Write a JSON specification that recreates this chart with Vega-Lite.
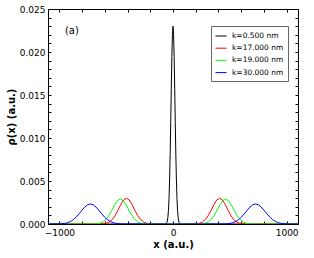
{
  "$schema": "https://vega.github.io/schema/vega-lite/v6.json",
  "autosize": {"type": "none"},
  "width": 250,
  "height": 215,
  "padding": {"left": 48, "top": 9, "right": 16, "bottom": 34},
  "config": {
    "font": "DejaVu Sans",
    "view": {"stroke": "black", "strokeWidth": 1},
    "axis": {"grid": false, "domainColor": "black", "tickColor": "black", "labelColor": "black", "titleColor": "black", "labelFontSize": 9, "titleFontSize": 10, "titleFontWeight": "bold", "labelFont": "DejaVu Sans", "titleFont": "DejaVu Sans"}
  },
  "layer": [
    {
      "data": {"values": [
    {"k": "k=0.500 nm", "x": -1100, "y": 0},
    {"k": "k=0.500 nm", "x": -70, "y": 0},
    {"k": "k=0.500 nm", "x": -60, "y": 0.00006},
    {"k": "k=0.500 nm", "x": -55, "y": 0.00015},
    {"k": "k=0.500 nm", "x": -50, "y": 0.00035},
    {"k": "k=0.500 nm", "x": -45, "y": 0.00078},
    {"k": "k=0.500 nm", "x": -40, "y": 0.00159},
    {"k": "k=0.500 nm", "x": -35, "y": 0.00297},
    {"k": "k=0.500 nm", "x": -30, "y": 0.00511},
    {"k": "k=0.500 nm", "x": -25, "y": 0.0081},
    {"k": "k=0.500 nm", "x": -20, "y": 0.01179},
    {"k": "k=0.500 nm", "x": -15, "y": 0.01579},
    {"k": "k=0.500 nm", "x": -10, "y": 0.01946},
    {"k": "k=0.500 nm", "x": -5, "y": 0.02206},
    {"k": "k=0.500 nm", "x": 0, "y": 0.0230},
    {"k": "k=0.500 nm", "x": 5, "y": 0.02206},
    {"k": "k=0.500 nm", "x": 10, "y": 0.01946},
    {"k": "k=0.500 nm", "x": 15, "y": 0.01579},
    {"k": "k=0.500 nm", "x": 20, "y": 0.01179},
    {"k": "k=0.500 nm", "x": 25, "y": 0.0081},
    {"k": "k=0.500 nm", "x": 30, "y": 0.00511},
    {"k": "k=0.500 nm", "x": 35, "y": 0.00297},
    {"k": "k=0.500 nm", "x": 40, "y": 0.00159},
    {"k": "k=0.500 nm", "x": 45, "y": 0.00078},
    {"k": "k=0.500 nm", "x": 50, "y": 0.00035},
    {"k": "k=0.500 nm", "x": 55, "y": 0.00015},
    {"k": "k=0.500 nm", "x": 60, "y": 0.00006},
    {"k": "k=0.500 nm", "x": 70, "y": 0},
    {"k": "k=0.500 nm", "x": 1100, "y": 0},

    {"k": "k=17.000 nm", "x": -1100, "y": 0},
    {"k": "k=17.000 nm", "x": -660, "y": 0},
    {"k": "k=17.000 nm", "x": -635, "y": 0.00001},
    {"k": "k=17.000 nm", "x": -610, "y": 0.000033},
    {"k": "k=17.000 nm", "x": -585, "y": 0.000094},
    {"k": "k=17.000 nm", "x": -560, "y": 0.000236},
    {"k": "k=17.000 nm", "x": -535, "y": 0.000513},
    {"k": "k=17.000 nm", "x": -510, "y": 0.000968},
    {"k": "k=17.000 nm", "x": -485, "y": 0.001588},
    {"k": "k=17.000 nm", "x": -460, "y": 0.002261},
    {"k": "k=17.000 nm", "x": -435, "y": 0.002795},
    {"k": "k=17.000 nm", "x": -410, "y": 0.0030},
    {"k": "k=17.000 nm", "x": -385, "y": 0.002795},
    {"k": "k=17.000 nm", "x": -360, "y": 0.002261},
    {"k": "k=17.000 nm", "x": -335, "y": 0.001588},
    {"k": "k=17.000 nm", "x": -310, "y": 0.000968},
    {"k": "k=17.000 nm", "x": -285, "y": 0.000513},
    {"k": "k=17.000 nm", "x": -260, "y": 0.000236},
    {"k": "k=17.000 nm", "x": -235, "y": 0.000094},
    {"k": "k=17.000 nm", "x": -210, "y": 0.000033},
    {"k": "k=17.000 nm", "x": -185, "y": 0.00001},
    {"k": "k=17.000 nm", "x": -160, "y": 0},
    {"k": "k=17.000 nm", "x": 160, "y": 0},
    {"k": "k=17.000 nm", "x": 185, "y": 0.00001},
    {"k": "k=17.000 nm", "x": 210, "y": 0.000033},
    {"k": "k=17.000 nm", "x": 235, "y": 0.000094},
    {"k": "k=17.000 nm", "x": 260, "y": 0.000236},
    {"k": "k=17.000 nm", "x": 285, "y": 0.000513},
    {"k": "k=17.000 nm", "x": 310, "y": 0.000968},
    {"k": "k=17.000 nm", "x": 335, "y": 0.001588},
    {"k": "k=17.000 nm", "x": 360, "y": 0.002261},
    {"k": "k=17.000 nm", "x": 385, "y": 0.002795},
    {"k": "k=17.000 nm", "x": 410, "y": 0.0030},
    {"k": "k=17.000 nm", "x": 435, "y": 0.002795},
    {"k": "k=17.000 nm", "x": 460, "y": 0.002261},
    {"k": "k=17.000 nm", "x": 485, "y": 0.001588},
    {"k": "k=17.000 nm", "x": 510, "y": 0.000968},
    {"k": "k=17.000 nm", "x": 535, "y": 0.000513},
    {"k": "k=17.000 nm", "x": 560, "y": 0.000236},
    {"k": "k=17.000 nm", "x": 585, "y": 0.000094},
    {"k": "k=17.000 nm", "x": 610, "y": 0.000033},
    {"k": "k=17.000 nm", "x": 635, "y": 0.00001},
    {"k": "k=17.000 nm", "x": 660, "y": 0},
    {"k": "k=17.000 nm", "x": 1100, "y": 0},

    {"k": "k=19.000 nm", "x": -1100, "y": 0},
    {"k": "k=19.000 nm", "x": -738, "y": 0},
    {"k": "k=19.000 nm", "x": -713, "y": 0.000004},
    {"k": "k=19.000 nm", "x": -688, "y": 0.000014},
    {"k": "k=19.000 nm", "x": -663, "y": 0.000042},
    {"k": "k=19.000 nm", "x": -638, "y": 0.000114},
    {"k": "k=19.000 nm", "x": -613, "y": 0.000269},
    {"k": "k=19.000 nm", "x": -588, "y": 0.000557},
    {"k": "k=19.000 nm", "x": -563, "y": 0.001009},
    {"k": "k=19.000 nm", "x": -538, "y": 0.001601},
    {"k": "k=19.000 nm", "x": -513, "y": 0.002227},
    {"k": "k=19.000 nm", "x": -488, "y": 0.002715},
    {"k": "k=19.000 nm", "x": -463, "y": 0.0029},
    {"k": "k=19.000 nm", "x": -438, "y": 0.002715},
    {"k": "k=19.000 nm", "x": -413, "y": 0.002227},
    {"k": "k=19.000 nm", "x": -388, "y": 0.001601},
    {"k": "k=19.000 nm", "x": -363, "y": 0.001009},
    {"k": "k=19.000 nm", "x": -338, "y": 0.000557},
    {"k": "k=19.000 nm", "x": -313, "y": 0.000269},
    {"k": "k=19.000 nm", "x": -288, "y": 0.000114},
    {"k": "k=19.000 nm", "x": -263, "y": 0.000042},
    {"k": "k=19.000 nm", "x": -238, "y": 0.000014},
    {"k": "k=19.000 nm", "x": -213, "y": 0.000004},
    {"k": "k=19.000 nm", "x": -188, "y": 0},
    {"k": "k=19.000 nm", "x": 188, "y": 0},
    {"k": "k=19.000 nm", "x": 213, "y": 0.000004},
    {"k": "k=19.000 nm", "x": 238, "y": 0.000014},
    {"k": "k=19.000 nm", "x": 263, "y": 0.000042},
    {"k": "k=19.000 nm", "x": 288, "y": 0.000114},
    {"k": "k=19.000 nm", "x": 313, "y": 0.000269},
    {"k": "k=19.000 nm", "x": 338, "y": 0.000557},
    {"k": "k=19.000 nm", "x": 363, "y": 0.001009},
    {"k": "k=19.000 nm", "x": 388, "y": 0.001601},
    {"k": "k=19.000 nm", "x": 413, "y": 0.002227},
    {"k": "k=19.000 nm", "x": 438, "y": 0.002715},
    {"k": "k=19.000 nm", "x": 463, "y": 0.0029},
    {"k": "k=19.000 nm", "x": 488, "y": 0.002715},
    {"k": "k=19.000 nm", "x": 513, "y": 0.002227},
    {"k": "k=19.000 nm", "x": 538, "y": 0.001601},
    {"k": "k=19.000 nm", "x": 563, "y": 0.001009},
    {"k": "k=19.000 nm", "x": 588, "y": 0.000557},
    {"k": "k=19.000 nm", "x": 613, "y": 0.000269},
    {"k": "k=19.000 nm", "x": 638, "y": 0.000114},
    {"k": "k=19.000 nm", "x": 663, "y": 0.000042},
    {"k": "k=19.000 nm", "x": 688, "y": 0.000014},
    {"k": "k=19.000 nm", "x": 713, "y": 0.000004},
    {"k": "k=19.000 nm", "x": 738, "y": 0},
    {"k": "k=19.000 nm", "x": 1100, "y": 0},

    {"k": "k=30.000 nm", "x": -1100, "y": 0},
    {"k": "k=30.000 nm", "x": -1052, "y": 0.000002},
    {"k": "k=30.000 nm", "x": -1027, "y": 0.000005},
    {"k": "k=30.000 nm", "x": -1002, "y": 0.000013},
    {"k": "k=30.000 nm", "x": -977, "y": 0.000033},
    {"k": "k=30.000 nm", "x": -952, "y": 0.000074},
    {"k": "k=30.000 nm", "x": -927, "y": 0.000152},
    {"k": "k=30.000 nm", "x": -902, "y": 0.000288},
    {"k": "k=30.000 nm", "x": -877, "y": 0.000502},
    {"k": "k=30.000 nm", "x": -852, "y": 0.000802},
    {"k": "k=30.000 nm", "x": -827, "y": 0.001178},
    {"k": "k=30.000 nm", "x": -802, "y": 0.001587},
    {"k": "k=30.000 nm", "x": -777, "y": 0.001965},
    {"k": "k=30.000 nm", "x": -752, "y": 0.002233},
    {"k": "k=30.000 nm", "x": -727, "y": 0.00233},
    {"k": "k=30.000 nm", "x": -702, "y": 0.002233},
    {"k": "k=30.000 nm", "x": -677, "y": 0.001965},
    {"k": "k=30.000 nm", "x": -652, "y": 0.001587},
    {"k": "k=30.000 nm", "x": -627, "y": 0.001178},
    {"k": "k=30.000 nm", "x": -602, "y": 0.000802},
    {"k": "k=30.000 nm", "x": -577, "y": 0.000502},
    {"k": "k=30.000 nm", "x": -552, "y": 0.000288},
    {"k": "k=30.000 nm", "x": -527, "y": 0.000152},
    {"k": "k=30.000 nm", "x": -502, "y": 0.000074},
    {"k": "k=30.000 nm", "x": -477, "y": 0.000033},
    {"k": "k=30.000 nm", "x": -452, "y": 0.000013},
    {"k": "k=30.000 nm", "x": -427, "y": 0.000005},
    {"k": "k=30.000 nm", "x": -402, "y": 0.000002},
    {"k": "k=30.000 nm", "x": 402, "y": 0.000002},
    {"k": "k=30.000 nm", "x": 427, "y": 0.000005},
    {"k": "k=30.000 nm", "x": 452, "y": 0.000013},
    {"k": "k=30.000 nm", "x": 477, "y": 0.000033},
    {"k": "k=30.000 nm", "x": 502, "y": 0.000074},
    {"k": "k=30.000 nm", "x": 527, "y": 0.000152},
    {"k": "k=30.000 nm", "x": 552, "y": 0.000288},
    {"k": "k=30.000 nm", "x": 577, "y": 0.000502},
    {"k": "k=30.000 nm", "x": 602, "y": 0.000802},
    {"k": "k=30.000 nm", "x": 627, "y": 0.001178},
    {"k": "k=30.000 nm", "x": 652, "y": 0.001587},
    {"k": "k=30.000 nm", "x": 677, "y": 0.001965},
    {"k": "k=30.000 nm", "x": 702, "y": 0.002233},
    {"k": "k=30.000 nm", "x": 727, "y": 0.00233},
    {"k": "k=30.000 nm", "x": 752, "y": 0.002233},
    {"k": "k=30.000 nm", "x": 777, "y": 0.001965},
    {"k": "k=30.000 nm", "x": 802, "y": 0.001587},
    {"k": "k=30.000 nm", "x": 827, "y": 0.001178},
    {"k": "k=30.000 nm", "x": 852, "y": 0.000802},
    {"k": "k=30.000 nm", "x": 877, "y": 0.000502},
    {"k": "k=30.000 nm", "x": 902, "y": 0.000288},
    {"k": "k=30.000 nm", "x": 927, "y": 0.000152},
    {"k": "k=30.000 nm", "x": 952, "y": 0.000074},
    {"k": "k=30.000 nm", "x": 977, "y": 0.000033},
    {"k": "k=30.000 nm", "x": 1002, "y": 0.000013},
    {"k": "k=30.000 nm", "x": 1027, "y": 0.000005},
    {"k": "k=30.000 nm", "x": 1052, "y": 0.000002},
    {"k": "k=30.000 nm", "x": 1100, "y": 0}
      ]},
      "mark": {"type": "line", "strokeWidth": 1, "clip": true},
      "encoding": {
        "x": {"field": "x", "type": "quantitative", "scale": {"domain": [-1100, 1100], "nice": false, "zero": false},
          "axis": {"title": "x (a.u.)", "values": [-1000, -800, -600, -400, -200, 0, 200, 400, 600, 800, 1000],
            "labelExpr": "datum.value % 1000 === 0 ? format(datum.value, 'd') : ''",
            "tickSize": -3, "labelPadding": 7, "titlePadding": 2, "labelFlush": false, "labelOverlap": false}},
        "y": {"field": "y", "type": "quantitative", "scale": {"domain": [0, 0.025], "nice": false},
          "axis": {"title": "ρ(x) (a.u.)", "values": [0, 0.001, 0.002, 0.003, 0.004, 0.005, 0.006, 0.007, 0.008, 0.009, 0.01, 0.011, 0.012, 0.013, 0.014, 0.015, 0.016, 0.017, 0.018, 0.019, 0.02, 0.021, 0.022, 0.023, 0.024, 0.025],
            "labelExpr": "round(datum.value * 1000) % 5 === 0 ? format(datum.value, '.3f') : ''",
            "tickSize": -3, "labelPadding": 6, "titlePadding": 3, "labelOverlap": false, "labelFlush": false}},
        "color": {"field": "k", "type": "nominal",
          "scale": {"domain": ["k=0.500 nm", "k=17.000 nm", "k=19.000 nm", "k=30.000 nm"], "range": ["#000000", "#ff0000", "#00ff00", "#0000ff"]},
          "legend": {"title": null, "orient": "none", "legendX": 163, "legendY": 17, "symbolType": "stroke", "symbolSize": 121, "symbolStrokeWidth": 1,
            "labelFontSize": 7.5, "labelColor": "black", "labelOffset": 5, "rowPadding": 2.2, "padding": 4,
            "strokeColor": "#666666", "fillColor": "white", "cornerRadius": 0}}
      }
    },
    {
      "data": {"values": [{"label": "(a)"}]},
      "mark": {"type": "text", "fontSize": 10, "font": "DejaVu Sans", "fontWeight": "normal", "fill": "black"},
      "encoding": {
        "text": {"field": "label", "type": "nominal"},
        "x": {"datum": -890, "type": "quantitative",
          "axis": {"orient": "top", "title": null, "labels": false, "domain": false, "values": [-1000, -800, -600, -400, -200, 0, 200, 400, 600, 800, 1000], "tickSize": -3}},
        "y": {"datum": 0.0224, "type": "quantitative",
          "axis": {"orient": "right", "title": null, "labels": false, "domain": false, "values": [0, 0.001, 0.002, 0.003, 0.004, 0.005, 0.006, 0.007, 0.008, 0.009, 0.01, 0.011, 0.012, 0.013, 0.014, 0.015, 0.016, 0.017, 0.018, 0.019, 0.02, 0.021, 0.022, 0.023, 0.024, 0.025], "tickSize": -3}}
      }
    }
  ],
  "resolve": {"axis": {"x": "independent", "y": "independent"}}
}
